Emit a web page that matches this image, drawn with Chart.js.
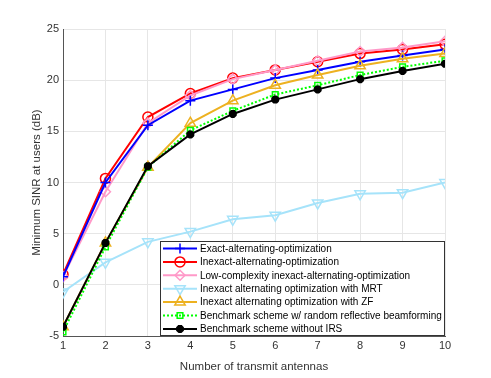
<!DOCTYPE html>
<html><head><meta charset="utf-8">
<script src="https://cdn.jsdelivr.net/npm/chart.js@4/dist/chart.umd.min.js"></script>
<style>html,body{margin:0;padding:0;background:#fff;}#wrap{width:491px;height:378px;}</style>
</head><body><div id="wrap"><canvas id="c" width="491" height="378"></canvas></div>
<script>
const antennas = [1, 2, 3, 4, 5, 6, 7, 8, 9, 10];
const yTicks = [-5, 0, 5, 10, 15, 20, 25];
const exactAO = [0.8, 10.0, 15.6, 18.0, 19.1, 20.2, 21.0, 21.8, 22.4, 23.0];
const inexactAO = [1.0, 10.4, 16.4, 18.7, 20.2, 21.0, 21.8, 22.6, 23.0, 23.5];
const lowComplexityAO = [0.8, 9.1, 15.8, 18.5, 20.1, 21.0, 21.9, 22.8, 23.2, 23.8];
const inexactMRT = [-0.7, 2.2, 4.2, 5.2, 6.4, 6.8, 8.0, 8.9, 9.0, 10.0];
const inexactZF = [-4.1, 4.1, 11.5, 15.8, 18.0, 19.5, 20.5, 21.4, 22.1, 22.6];
const benchRandom = [-4.6, 3.7, 11.5, 15.1, 17.0, 18.6, 19.5, 20.5, 21.3, 21.9];
const benchNoIRS = [-4.1, 4.1, 11.6, 14.7, 16.7, 18.1, 19.1, 20.1, 20.9, 21.6];
const seriesNames = [
  'Exact-alternating-optimization',
  'Inexact-alternating-optimization',
  'Low-complexity inexact-alternating-optimization',
  'Inexact alternating optimization with MRT',
  'Inexact alternating optimization with ZF',
  'Benchmark scheme w/ random reflective beamforming',
  'Benchmark scheme without IRS'
];

function ds(label, data, color, style, extra) {
  return Object.assign({
    label, data, borderColor: color, backgroundColor: 'rgba(0,0,0,0)',
    borderWidth: 2, pointStyle: style, pointRadius: 5, pointBorderWidth: 1.5,
    pointBorderColor: color, pointBackgroundColor: 'rgba(0,0,0,0)', tension: 0
  }, extra || {});
}

const datasets = [
  ds(seriesNames[6], benchNoIRS, '#000000', 'star', {pointRadius: 4, pointBorderWidth: 3, pointBackgroundColor: '#000'}),
  ds(seriesNames[5], benchRandom, '#00ff00', 'rect', {borderDash: [2, 2], pointRadius: 4}),
  ds(seriesNames[4], inexactZF, '#EDB120', 'triangle', {pointRadius: 6}),
  ds(seriesNames[3], inexactMRT, '#A6E3FA', 'triangle', {pointRadius: 6, pointRotation: 180}),
  ds(seriesNames[0], exactAO, '#0000ff', 'cross', {pointRadius: 5}),
  ds(seriesNames[2], lowComplexityAO, '#FF99C8', 'rectRot', {pointRadius: 5}),
  ds(seriesNames[1], inexactAO, '#ff0000', 'circle', {pointRadius: 5})
];

const legendPlugin = {
  id: 'insideLegend',
  afterDraw(chart) {
    const ctx = chart.ctx;
    const area = chart.chartArea;
    const w = 285, h = 95;
    const x0 = area.right - w, y0 = area.bottom - h;
    ctx.save();
    ctx.fillStyle = '#fff';
    ctx.fillRect(x0, y0, w, h);
    ctx.strokeStyle = '#333';
    ctx.lineWidth = 1;
    ctx.strokeRect(x0 + 0.5, y0 + 0.5, w - 1, h - 1);
    ctx.font = '10px "Liberation Sans", Arial, sans-serif';
    ctx.textBaseline = 'middle';
    ctx.fillStyle = '#000';
    const rowH = 13.4;
    seriesNames.forEach((name, i) => {
      const d = chart.data.datasets.find(s => s.label === name);
      const y = y0 + 7.5 + i * rowH;
      ctx.save();
      ctx.strokeStyle = d.borderColor;
      ctx.lineWidth = d.borderWidth;
      ctx.setLineDash(d.borderDash || []);
      ctx.beginPath();
      ctx.moveTo(x0 + 3, y);
      ctx.lineTo(x0 + 37, y);
      ctx.stroke();
      ctx.restore();
      ctx.save();
      ctx.strokeStyle = d.pointBorderColor;
      ctx.fillStyle = d.pointBackgroundColor;
      ctx.lineWidth = d.pointBorderWidth;
      Chart.helpers.drawPoint(ctx, {pointStyle: d.pointStyle, radius: d.pointRadius, rotation: d.pointRotation || 0, borderWidth: d.pointBorderWidth}, x0 + 20, y);
      ctx.restore();
      ctx.fillStyle = '#000';
      ctx.fillText(name, x0 + 40, y + 0.5);
    });
    ctx.restore();
  }
};

new Chart(document.getElementById('c'), {
  type: 'line',
  data: { labels: antennas, datasets },
  options: {
    responsive: false, animation: false,
    layout: { padding: { left: 30, right: 46, top: 29, bottom: 0 } },
    plugins: { legend: { display: false }, tooltip: { enabled: false } },
    scales: {
      x: {
        type: 'linear', min: 1, max: 10,
        ticks: { stepSize: 1, color: '#333', font: { size: 11, family: '"Liberation Sans", Arial' }, padding: 3 },
        grid: { color: '#e6e6e6', tickLength: 0 },
        border: { color: '#555', width: 1 },
        title: { display: true, text: 'Number of transmit antennas', color: '#333', font: { size: 11.5, family: '"Liberation Sans", Arial' }, padding: { top: 2 } },
        afterFit(s) { s.height = 42; }
      },
      y: {
        min: -5, max: 25,
        afterBuildTicks(s) { s.ticks = yTicks.map(v => ({ value: v })); },
        ticks: { color: '#333', font: { size: 11, family: '"Liberation Sans", Arial' }, padding: 4 },
        grid: { color: '#e6e6e6', tickLength: 0 },
        border: { color: '#555', width: 1 },
        title: { display: true, text: 'Minimum SINR at users (dB)', color: '#333', font: { size: 11.5, family: '"Liberation Sans", Arial' }, padding: { top: 0, bottom: 4 } },
        afterFit(s) { s.width = 33; }
      }
    }
  },
  plugins: [legendPlugin]
});
</script></body></html>
